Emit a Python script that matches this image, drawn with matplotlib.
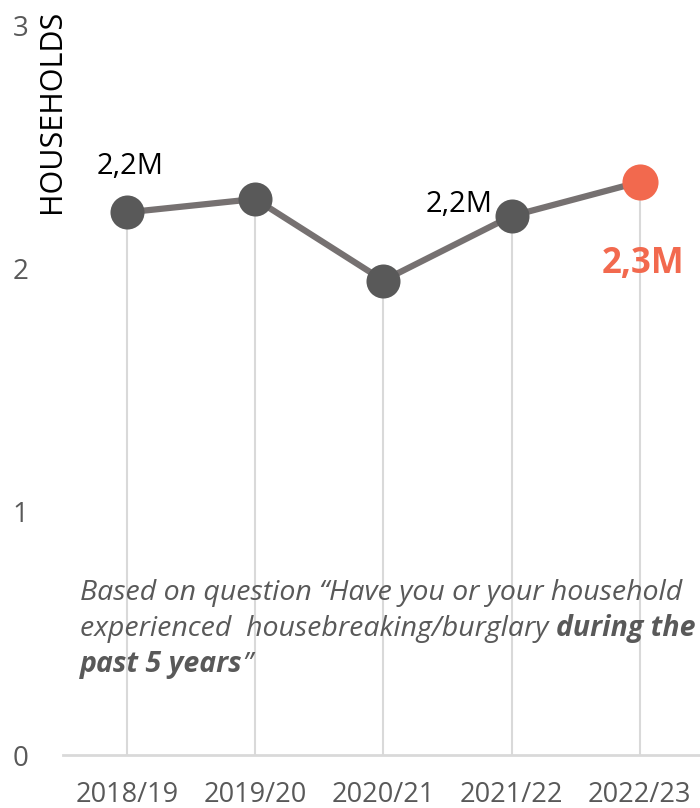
import matplotlib
matplotlib.use("Agg")
import matplotlib.pyplot as plt
from matplotlib.offsetbox import TextArea, HPacker, VPacker, AnnotationBbox

years = ["2018/19", "2019/20", "2020/21", "2021/22", "2022/23"]
households = [2.23, 2.285, 1.95, 2.215, 2.355]  # millions
point_labels = ["2,2M", None, None, "2,2M", "2,3M"]
y_ticks = [0, 1, 2, 3]

GREY_TXT = "#595959"
LINE_COL = "#767171"
DOT_COL = "#595959"
HIGHLIGHT = "#F2694E"
GRID_COL = "#D9D9D9"

plt.rcParams["font.family"] = ["Open Sans", "DejaVu Sans"]

fig = plt.figure(figsize=(7, 8.08), dpi=100)
ax = fig.add_axes([63 / 700, 1 - 755 / 808, 1 - 63 / 700, (755 - 25) / 808])

x = list(range(len(years)))

# drop lines from each point to the axis
ax.vlines(x, 0, households, color=GRID_COL, lw=1.5, zorder=1)
ax.plot(x, households, color=LINE_COL, lw=4.5, zorder=2, solid_capstyle="round")
ax.scatter(x[:-1], households[:-1], s=24.5 ** 2, color=DOT_COL, zorder=3, linewidths=0)
ax.scatter(x[-1:], households[-1:], s=26 ** 2, color=HIGHLIGHT, zorder=3, linewidths=0)

# value labels
ax.annotate(point_labels[0], (x[0], households[0]), xytext=(2, 33), textcoords="offset points",
            ha="center", va="center", fontsize=21, color="black")
ax.annotate(point_labels[3], (x[3], households[3]), xytext=(-14, 8), textcoords="offset points",
            ha="right", va="center", fontsize=21, color="black")
ax.annotate(point_labels[4], (x[4], households[4]), xytext=(2, -59), textcoords="offset points",
            ha="center", va="center", fontsize=25, color=HIGHLIGHT, fontweight="bold")

ax.set_xlim(-0.5, 4.47)
ax.set_ylim(0, 3)
ax.set_yticks(y_ticks)
ax.set_yticklabels([str(t) for t in y_ticks])
ax.set_xticks(x)
ax.set_xticklabels(years)
ax.tick_params(axis="y", length=0, pad=25, labelsize=20, labelcolor=GREY_TXT)
ax.tick_params(axis="x", length=0, pad=19, labelsize=19.5, labelcolor=GREY_TXT)

for side in ["top", "right", "left"]:
    ax.spines[side].set_visible(False)
ax.spines["bottom"].set_color(GRID_COL)
ax.spines["bottom"].set_linewidth(2)

fig.text(52 / 700, 1 - 10 / 808, "HOUSEHOLDS", rotation=90, ha="center", va="top",
         fontsize=22, color="black")

# caption with mixed italic / bold italic
norm = dict(color=GREY_TXT, fontsize=20.5, fontstyle="italic")
bold = dict(color=GREY_TXT, fontsize=20.5, fontstyle="italic", fontweight="bold")
line1 = HPacker(children=[TextArea("Based on question \u201cHave you or your household", textprops=norm)],
                pad=0, sep=0, align="baseline")
line2 = HPacker(children=[TextArea("experienced  housebreaking/burglary ", textprops=norm),
                          TextArea("during the", textprops=bold)],
                pad=0, sep=0, align="baseline")
line3 = HPacker(children=[TextArea("past 5 years", textprops=bold),
                          TextArea("\u201d", textprops=norm)],
                pad=0, sep=0, align="baseline")
caption = VPacker(children=[line1, line2, line3], pad=0, sep=5, align="left")
ab = AnnotationBbox(caption, (80, 808 - 579), xycoords="figure pixels", box_alignment=(0, 1),
                    frameon=False, pad=0)
fig.add_artist(ab)

fig.savefig("out.png", dpi=100)
